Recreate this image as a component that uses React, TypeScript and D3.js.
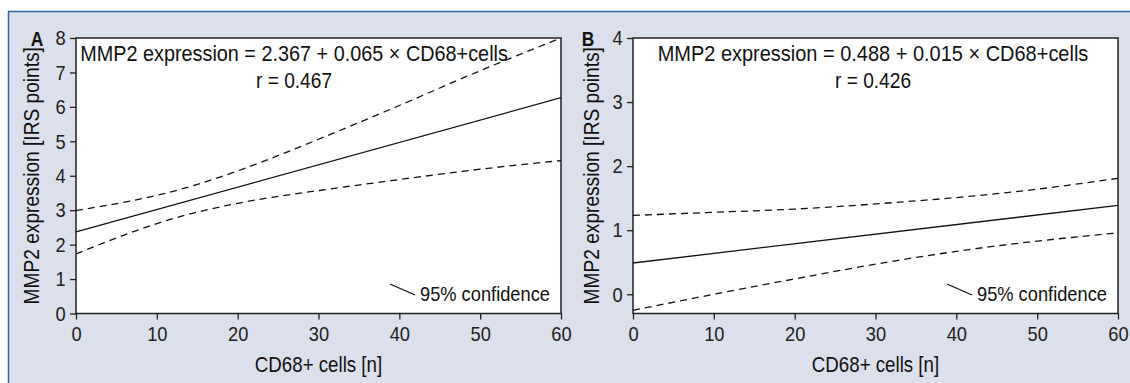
import React, { useRef, useEffect } from 'react';
import * as d3 from 'd3';

const W = 1130;
const H = 383;
const FONT = "'Liberation Sans', Arial, sans-serif";
const SX = 0.87; // horizontal squeeze to mimic a condensed face

// x values shared by both panels
const xTicks = [0, 10, 20, 30, 40, 50, 60];
const bandX = [0, 10, 20, 30, 40, 50, 60];
const fitX = [0, 60];

// panel A
const yTicksA = [0, 1, 2, 3, 4, 5, 6, 7, 8];
const fitA = [2.367, 6.267];
const upperA = [2.99, 3.43, 4.14, 5.06, 6.04, 7.05, 8.0];
const lowerA = [1.73, 2.61, 3.2, 3.57, 3.89, 4.19, 4.44];

// panel B
const yTicksB = [0, 1, 2, 3, 4];
const fitB = [0.488, 1.388];
const upperB = [1.23, 1.28, 1.33, 1.41, 1.51, 1.64, 1.81];
const lowerB = [-0.25, 0.0, 0.24, 0.47, 0.67, 0.83, 0.96];

const panels = [
  {
    label: 'A', left: 76, yDomain: [0, 8], yTicks: yTicksA,
    fit: fitA, upper: upperA, lower: lowerA,
    eq: 'MMP2 expression = 2.367 + 0.065 \u00d7 CD68+cells', r: 'r = 0.467',
    eqX: 294, eqLen: 428, labelX: 37, titleX: 32,
  },
  {
    label: 'B', left: 633, yDomain: [-0.3, 4], yTicks: yTicksB,
    fit: fitB, upper: upperB, lower: lowerB,
    eq: 'MMP2 expression = 0.488 + 0.015 \u00d7 CD68+cells', r: 'r = 0.426',
    eqX: 873, eqLen: 431, labelX: 588, titleX: 592,
  },
];

function label(g: any, x: number, y: number, str: string, size: number, anchor = 'start', rotate = 0, sx = SX) {
  return g.append('text')
    .attr('transform', `translate(${x},${y}) rotate(${rotate}) scale(${sx},1)`)
    .attr('text-anchor', anchor)
    .attr('font-size', size)
    .attr('fill', '#111')
    .text(str);
}

export default function App() {
  const svgRef = useRef<SVGSVGElement | null>(null);

  useEffect(() => {
    if (!svgRef.current) return;
    const svg = d3.select(svgRef.current);
    svg.selectAll('*').remove();

    // background box
    svg.append('rect').attr('x', 0).attr('y', 0).attr('width', W).attr('height', H).attr('fill', '#fff');
    svg.append('rect').attr('x', 8).attr('y', 11).attr('width', W - 8).attr('height', H - 11).attr('fill', '#dcdfec');
    svg.append('line').attr('x1', 8).attr('x2', W).attr('y1', 11.5).attr('y2', 11.5).attr('stroke', '#2f67b1').attr('stroke-width', 1.5);
    svg.append('line').attr('x1', 8.5).attr('x2', 8.5).attr('y1', 11).attr('y2', H).attr('stroke', '#2f67b1').attr('stroke-width', 1.5);

    const top = 38;
    const bottom = 313.5;
    const pw = 485;

    panels.forEach(p => {
      const g = svg.append('g').attr('font-family', FONT);
      const x = d3.scaleLinear().domain([0, 60]).range([p.left, p.left + pw]);
      const y = d3.scaleLinear().domain(p.yDomain).range([bottom, top]);

      g.append('rect')
        .attr('x', p.left).attr('y', top).attr('width', pw).attr('height', bottom - top)
        .attr('fill', '#fff').attr('stroke', '#222').attr('stroke-width', 1.5);

      // axes
      const xAxis = g.append('g')
        .attr('transform', `translate(0,${bottom})`)
        .call(d3.axisBottom(x).tickValues(xTicks).tickFormat(d3.format('d')).tickSize(6).tickPadding(7));
      const yAxis = g.append('g')
        .attr('transform', `translate(${p.left},0)`)
        .call(d3.axisLeft(y).tickValues(p.yTicks).tickFormat(d3.format('d')).tickSize(6).tickPadding(6));
      [xAxis, yAxis].forEach(a => {
        a.select('.domain').remove();
        a.selectAll('line').attr('stroke', '#222').attr('stroke-width', 1.3);
        a.selectAll('text')
          .attr('font-family', FONT).attr('font-size', 21).attr('fill', '#222')
          .attr('transform', `scale(${SX},1)`);
      });

      // regression line and confidence band
      const line = d3.line<[number, number]>().x(d => x(d[0])).y(d => y(d[1]));
      const curve = d3.line<[number, number]>().x(d => x(d[0])).y(d => y(d[1])).curve(d3.curveNatural);
      g.append('path')
        .attr('d', line(fitX.map((v, i) => [v, p.fit[i]] as [number, number])))
        .attr('fill', 'none').attr('stroke', '#111').attr('stroke-width', 1.3);
      [p.upper, p.lower].forEach(band => {
        g.append('path')
          .attr('d', curve(bandX.map((v, i) => [v, band[i]] as [number, number])))
          .attr('fill', 'none').attr('stroke', '#111').attr('stroke-width', 1.3)
          .attr('stroke-dasharray', '7,5');
      });

      // equation, squeezed to the width it has in the figure
      const eq = label(g, p.eqX, 61, p.eq, 22, 'middle', 0, 1);
      const natural = (eq.node() as SVGTextElement).getComputedTextLength() || p.eqLen;
      eq.attr('transform', `translate(${p.eqX},61) scale(${p.eqLen / natural},1)`);
      label(g, p.eqX, 88, p.r, 22, 'middle');

      // legend
      const right = p.left + pw;
      g.append('line')
        .attr('x1', right - 171).attr('y1', 284).attr('x2', right - 146).attr('y2', 295)
        .attr('stroke', '#111').attr('stroke-width', 1.3);
      label(g, right - 141, 301, '95% confidence', 21);

      // axis titles
      label(g, p.left + pw / 2, 372, 'CD68+ cells [n]', 21.5, 'middle');
      label(g, p.titleX + 7, (top + bottom) / 2, 'MMP2 expression [IRS points]', 22, 'middle', -90);

      // panel letter
      label(g, p.labelX, 46, p.label, 20, 'middle').attr('font-weight', 'bold');
    });
  }, []);

  return (
    <svg ref={svgRef} width={W} height={H} style={{ position: 'absolute', left: 0, top: 0 }} />
  );
}
